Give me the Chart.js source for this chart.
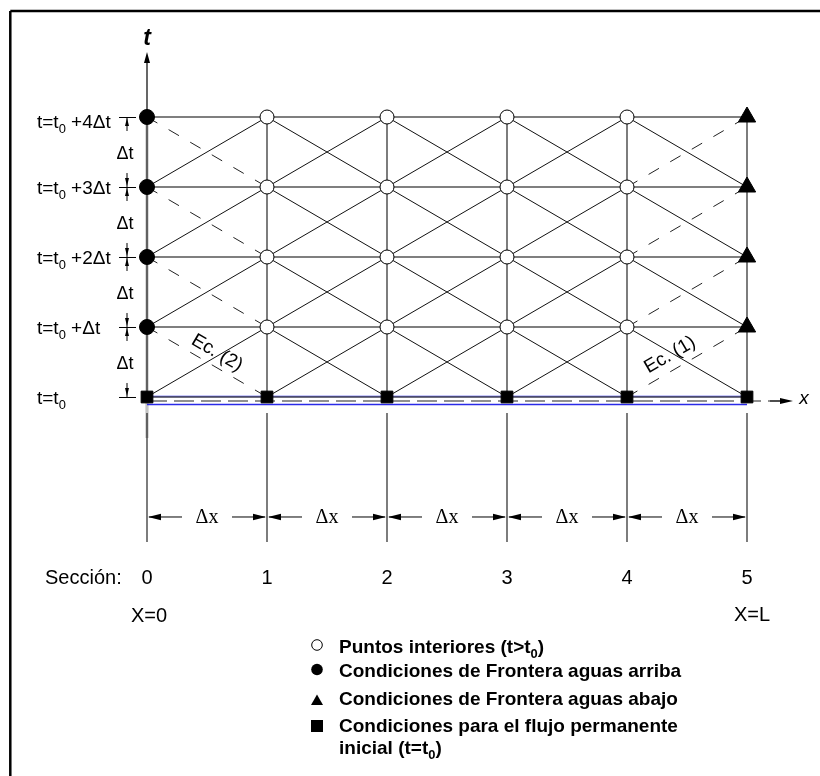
<!DOCTYPE html>
<html><head><meta charset="utf-8">
<script src="https://cdn.jsdelivr.net/npm/chart.js@4.4.0/dist/chart.umd.min.js"></script>
<style>html,body{margin:0;padding:0;background:#fff}canvas{display:block}</style>
</head><body>
<canvas id="c" width="820" height="776"></canvas>
<script>
// ---------- data ----------
const sections = [0, 1, 2, 3, 4, 5];
const timeLevels = [0, 1, 2, 3, 4];
const sectionLabels = ['0', '1', '2', '3', '4', '5'];
// [main, subscript, tail]
const timeLabels = [
  ['t=t', '0', ''],
  ['t=t', '0', ' +Δt'],
  ['t=t', '0', ' +2Δt'],
  ['t=t', '0', ' +3Δt'],
  ['t=t', '0', ' +4Δt']
];
const stepLabelT = 'Δt';
const stepLabelX = 'Δx';
const sectionTitle = 'Sección:';
const endLabels = ['X=0', 'X=L'];
const eqLabels = ['Ec. (1)', 'Ec. (2)'];
const axisLabels = ['x', 't'];
const legendItems = [
  ['Puntos interiores (t>t', '0', ')'],
  ['Condiciones de Frontera aguas arriba'],
  ['Condiciones de Frontera aguas abajo'],
  ['Condiciones para el flujo permanente'],
  ['inicial (t=t', '0', ')']
];

const first = sections[0], last = sections[sections.length - 1];
const tFirst = timeLevels[0], tLast = timeLevels[timeLevels.length - 1];

// ---------- marker datasets ----------
const interior = [], upstream = [], downstream = [], initial = [];
sections.forEach(s => timeLevels.forEach(t => {
  if (t === tFirst) initial.push({x: s, y: t});
  else if (s === first) upstream.push({x: s, y: t});
  else if (s === last) downstream.push({x: s, y: t});
  else interior.push({x: s, y: t});
}));

// ---------- grid line datasets ----------
function seg(x0, y0, x1, y1, color, width, dash) {
  return {type: 'scatter', data: [{x: x0, y: y0}, {x: x1, y: y1}], showLine: true,
    pointRadius: 0, borderColor: color, borderWidth: width, borderDash: dash || [],
    fill: false, order: 10};
}
const lineDs = [];
timeLevels.forEach(t => lineDs.push(seg(first, t, last, t, '#555', 1.4)));
sections.forEach(s => lineDs.push(seg(s, tFirst, s, tLast, '#111', 1.1)));
for (let i = 0; i < sections.length - 1; i++) {
  for (let k = 0; k < timeLevels.length - 1; k++) {
    const a = sections[i], b = sections[i + 1], t0 = timeLevels[k], t1 = timeLevels[k + 1];
    const upDashed = (i === sections.length - 2);
    const downDashed = (i === 0);
    lineDs.push(seg(a, t0, b, t1, upDashed ? '#222' : '#111', 1, upDashed ? [12, 13] : []));
    lineDs.push(seg(a, t1, b, t0, downDashed ? '#222' : '#111', 1, downDashed ? [12, 13] : []));
  }
}

const markerDs = [
  {type: 'scatter', data: interior, pointStyle: 'circle', pointRadius: 7, pointBackgroundColor: '#fff', pointBorderColor: '#000', pointBorderWidth: 1, order: 0},
  {type: 'scatter', data: upstream, pointStyle: 'circle', pointRadius: 7.5, pointBackgroundColor: '#000', pointBorderColor: '#000', pointBorderWidth: 1, order: 0},
  {type: 'scatter', data: downstream, pointStyle: 'triangle', pointRadius: 10, pointBackgroundColor: '#000', pointBorderColor: '#000', pointBorderWidth: 1, order: 0},
  {type: 'scatter', data: initial, pointStyle: 'rect', pointRadius: 8.3, pointBackgroundColor: '#000', pointBorderColor: '#000', pointBorderWidth: 1, order: 0}
];

// ---------- drawing helpers ----------
const SANS = '"Liberation Sans", Arial, sans-serif';
const SERIF = '"Liberation Serif", "Times New Roman", serif';
function rich(ctx, parts, x, y, size, weight, align) {
  const widths = [];
  let total = 0;
  parts.forEach((p, i) => {
    const s = (i % 2) ? size * 0.68 : size;
    ctx.font = weight + ' ' + s + 'px ' + SANS;
    const w = ctx.measureText(p).width; widths.push(w); total += w;
  });
  let cx = align === 'right' ? x - total : align === 'center' ? x - total / 2 : x;
  ctx.textAlign = 'left'; ctx.textBaseline = 'middle';
  parts.forEach((p, i) => {
    const s = (i % 2) ? size * 0.68 : size;
    ctx.font = weight + ' ' + s + 'px ' + SANS;
    ctx.fillText(p, cx, (i % 2) ? y + size * 0.32 : y);
    cx += widths[i];
  });
}
function arrowHead(ctx, tx, ty, dx, dy, len, half) {
  const nx = -dy, ny = dx;
  ctx.beginPath();
  ctx.moveTo(tx, ty);
  ctx.lineTo(tx - dx * len + nx * half, ty - dy * len + ny * half);
  ctx.lineTo(tx - dx * len - nx * half, ty - dy * len - ny * half);
  ctx.closePath(); ctx.fill();
}
function line(ctx, x0, y0, x1, y1) {
  ctx.beginPath(); ctx.moveTo(x0, y0); ctx.lineTo(x1, y1); ctx.stroke();
}

const decor = {
  id: 'decor',
  beforeDraw(chart) {
    const ctx = chart.ctx;
    ctx.save(); ctx.fillStyle = '#fff'; ctx.fillRect(0, 0, chart.width, chart.height); ctx.restore();
  },
  beforeDatasetsDraw(chart) {
    const ctx = chart.ctx, X = chart.scales.x, Y = chart.scales.y;
    const x0 = X.getPixelForValue(first), x5 = X.getPixelForValue(last);
    const y0 = Y.getPixelForValue(tFirst), yT = Y.getPixelForValue(tLast);
    ctx.save();
    // frame
    ctx.strokeStyle = '#000'; ctx.lineWidth = 2.5;
    line(ctx, 10.3, 11, 825, 11);
    line(ctx, 10.3, 11, 10.3, 780);
    // grey halo of t axis
    ctx.strokeStyle = '#c4c4c4'; ctx.lineWidth = 3.2;
    line(ctx, x0, yT, x0, y0 + 41);
    // t axis extension + arrow
    ctx.strokeStyle = '#000'; ctx.lineWidth = 1.2;
    line(ctx, x0, yT, x0, 60);
    ctx.fillStyle = '#000';
    arrowHead(ctx, x0, 52, 0, -1, 11, 3);
    // blue lines
    ctx.strokeStyle = '#2a2ae8'; ctx.lineWidth = 1.3;
    line(ctx, x0, y0 - 0.5, x5, y0 - 0.5);
    line(ctx, x0, y0 + 7.5, x5, y0 + 7.5);
    // x axis dashed + arrow
    ctx.strokeStyle = '#222'; ctx.lineWidth = 1.2;
    ctx.setLineDash([20, 7]);
    line(ctx, x0, y0 + 4, 782, y0 + 4);
    ctx.setLineDash([]);
    line(ctx, 770, y0 + 4, 782, y0 + 4);
    arrowHead(ctx, 793, y0 + 4, 1, 0, 13, 3);
    // lower vertical lines
    ctx.strokeStyle = '#111'; ctx.lineWidth = 1.1;
    sections.forEach(s => {
      const px = X.getPixelForValue(s);
      line(ctx, px, y0 + 16, px, y0 + 145);
    });
    ctx.restore();
  },
  afterDraw(chart) {
    const ctx = chart.ctx, X = chart.scales.x, Y = chart.scales.y;
    const x0 = X.getPixelForValue(first);
    const y0 = Y.getPixelForValue(tFirst);
    ctx.save();
    ctx.fillStyle = '#000'; ctx.strokeStyle = '#000';

    // axis labels
    ctx.textAlign = 'center'; ctx.textBaseline = 'middle';
    ctx.font = 'italic bold 23px ' + SANS;
    ctx.fillText(axisLabels[1], x0, 39);
    ctx.font = 'italic 19px ' + SANS;
    ctx.fillText(axisLabels[0], 804, y0 + 2);

    // time labels on the left
    timeLevels.forEach((t, i) => {
      const py = Y.getPixelForValue(t);
      rich(ctx, timeLabels[i], 37, py + (i === timeLevels.length - 1 ? 6 : 2), 19, 'normal', 'left');
      ctx.lineWidth = 1;
      line(ctx, 119, py + 0.5, 136, py + 0.5);
    });
    // Δt dimension
    for (let k = 0; k < timeLevels.length - 1; k++) {
      const yb = Y.getPixelForValue(timeLevels[k]), yt = Y.getPixelForValue(timeLevels[k + 1]);
      const xd = 127;
      ctx.lineWidth = 1;
      line(ctx, xd, yt, xd, yt + 14);
      line(ctx, xd, yb - 14, xd, yb);
      arrowHead(ctx, xd, yt + 1, 0, -1, 8, 2);
      arrowHead(ctx, xd, yb - 1, 0, 1, 8, 2);
      ctx.font = '18px ' + SANS; ctx.textAlign = 'center'; ctx.textBaseline = 'middle';
      ctx.fillText(stepLabelT, 125, (yt + yb) / 2 + 2);
    }

    // Δx dimension row
    const yd = y0 + 120;
    for (let i = 0; i < sections.length - 1; i++) {
      const a = X.getPixelForValue(sections[i]), b = X.getPixelForValue(sections[i + 1]);
      const m = (a + b) / 2;
      ctx.lineWidth = 1;
      line(ctx, a + 2, yd, m - 25, yd);
      line(ctx, m + 25, yd, b - 2, yd);
      arrowHead(ctx, a + 1, yd, -1, 0, 13, 3.3);
      arrowHead(ctx, b - 1, yd, 1, 0, 13, 3.3);
      ctx.font = '20px ' + SERIF; ctx.textAlign = 'center'; ctx.textBaseline = 'middle';
      ctx.fillText(stepLabelX, m, yd + 1);
    }

    // section labels
    ctx.font = '20px ' + SANS; ctx.textBaseline = 'middle';
    ctx.textAlign = 'left';
    ctx.fillText(sectionTitle, 45, 578);
    ctx.textAlign = 'center';
    sections.forEach((s, i) => ctx.fillText(sectionLabels[i], X.getPixelForValue(s), 578));
    ctx.fillText(endLabels[0], X.getPixelForValue(first) + 2, 616);
    ctx.fillText(endLabels[1], X.getPixelForValue(last) + 5, 615);

    // equation labels
    const ang = Math.atan2(Y.getPixelForValue(0) - Y.getPixelForValue(1), X.getPixelForValue(1) - X.getPixelForValue(0));
    ctx.font = '19px ' + SANS;
    ctx.save(); ctx.translate(217, 353); ctx.rotate(ang); ctx.textAlign = 'center'; ctx.textBaseline = 'middle';
    ctx.fillText(eqLabels[1], 0, 0); ctx.restore();
    ctx.save(); ctx.translate(670, 355); ctx.rotate(-ang); ctx.textAlign = 'center'; ctx.textBaseline = 'middle';
    ctx.fillText(eqLabels[0], 0, 0); ctx.restore();

    // legend
    const lx = 317, tx = 339;
    ctx.lineWidth = 1;
    ctx.beginPath(); ctx.arc(lx, 645, 5.3, 0, Math.PI * 2); ctx.fillStyle = '#fff'; ctx.fill(); ctx.stroke();
    ctx.fillStyle = '#000';
    ctx.beginPath(); ctx.arc(lx, 669.5, 5.8, 0, Math.PI * 2); ctx.fill();
    ctx.beginPath(); ctx.moveTo(lx, 694.5); ctx.lineTo(lx + 6, 705); ctx.lineTo(lx - 6, 705); ctx.closePath(); ctx.fill();
    ctx.fillRect(lx - 6, 720, 12, 12);
    const ly = [648, 672, 700, 727, 749];
    legendItems.forEach((p, i) => rich(ctx, p, tx, ly[i], 19, 'bold', 'left'));
    ctx.restore();
  }
};

new Chart(document.getElementById('c'), {
  type: 'scatter',
  data: {datasets: markerDs.concat(lineDs)},
  options: {
    responsive: false, animation: false, events: [],
    layout: {padding: 0, autoPadding: false},
    plugins: {legend: {display: false}, tooltip: {enabled: false}},
    scales: {
      x: {type: 'linear', display: false, min: -1.225, max: 5.60833},
      y: {type: 'linear', display: false, min: -5.41429, max: 5.67143}
    }
  },
  plugins: [decor]
});
</script>
</body></html>
